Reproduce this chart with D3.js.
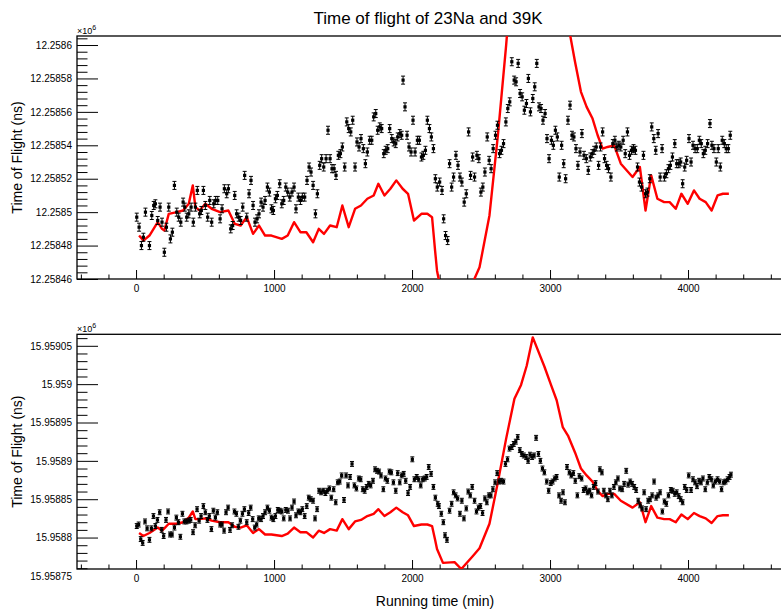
<!DOCTYPE html>
<html><head><meta charset="utf-8">
<script src="https://cdn.jsdelivr.net/npm/d3@7"></script>
<style>
body{margin:0;background:#fff}
svg{display:block}
text{font-family:"Liberation Sans",Arial,Helvetica,sans-serif;fill:#000}
</style>
</head><body>
<svg id="chart" width="781" height="611"></svg>
<script>
// ---- data (time in min, time of flight in ns) ----
const naTof = [[5,12258497],[22,12258491],[39,12258480],[53,12258485],[68,12258500],[97,12258480],[114,12258498],[128,12258504],[140,12258505],[157,12258495],[174,12258503],[188,12258494],[205,12258476],[220,12258491],[237,12258503],[249,12258484],[263,12258488],[278,12258516],[295,12258500],[309,12258497],[324,12258494],[341,12258506],[353,12258503],[367,12258497],[382,12258499],[399,12258503],[415,12258494],[430,12258503],[444,12258513],[461,12258499],[473,12258501],[488,12258513],[502,12258504],[519,12258497],[534,12258507],[548,12258494],[563,12258505],[577,12258507],[592,12258507],[609,12258496],[623,12258502],[640,12258514],[657,12258511],[669,12258514],[686,12258490],[700,12258492],[715,12258510],[729,12258499],[744,12258497],[758,12258495],[773,12258503],[787,12258522],[802,12258497],[819,12258511],[833,12258519],[848,12258504],[862,12258494],[877,12258496],[891,12258499],[906,12258506],[920,12258503],[935,12258507],[952,12258515],[966,12258512],[981,12258502],[995,12258501],[1010,12258508],[1024,12258510],[1041,12258517],[1056,12258505],[1070,12258507],[1085,12258515],[1099,12258512],[1114,12258509],[1130,12258512],[1145,12258515],[1159,12258502],[1176,12258509],[1191,12258507],[1205,12258509],[1222,12258509],[1239,12258519],[1254,12258527],[1268,12258524],[1283,12258516],[1300,12258499],[1314,12258511],[1331,12258528],[1345,12258532],[1360,12258527],[1377,12258532],[1391,12258549],[1406,12258532],[1420,12258526],[1435,12258526],[1449,12258522],[1466,12258534],[1481,12258535],[1495,12258539],[1512,12258527],[1527,12258554],[1541,12258550],[1556,12258548],[1570,12258555],[1587,12258527],[1601,12258542],[1616,12258539],[1630,12258544],[1647,12258538],[1662,12258529],[1676,12258536],[1693,12258543],[1708,12258543],[1722,12258557],[1737,12258559],[1751,12258549],[1766,12258551],[1780,12258550],[1795,12258535],[1809,12258537],[1824,12258538],[1838,12258550],[1853,12258544],[1867,12258542],[1882,12258541],[1896,12258545],[1911,12258547],[1925,12258546],[1935,12258579],[1949,12258563],[1964,12258546],[1978,12258539],[1993,12258536],[2007,12258555],[2022,12258536],[2039,12258543],[2053,12258543],[2068,12258533],[2082,12258534],[2097,12258537],[2111,12258555],[2126,12258550],[2140,12258545],[2155,12258538],[2169,12258520],[2183,12258515],[2200,12258518],[2217,12258513],[2229,12258496],[2243,12258486],[2258,12258483],[2272,12258529],[2287,12258515],[2301,12258521],[2318,12258534],[2333,12258528],[2347,12258521],[2361,12258518],[2378,12258506],[2393,12258511],[2410,12258548],[2424,12258522],[2439,12258533],[2453,12258521],[2470,12258534],[2484,12258532],[2499,12258512],[2513,12258515],[2528,12258524],[2545,12258545],[2559,12258531],[2573,12258526],[2588,12258538],[2605,12258546],[2619,12258552],[2634,12258535],[2648,12258537],[2663,12258541],[2680,12258554],[2694,12258562],[2708,12258566],[2723,12258590],[2740,12258579],[2754,12258578],[2769,12258589],[2783,12258571],[2798,12258569],[2814,12258561],[2829,12258565],[2843,12258580],[2858,12258560],[2875,12258568],[2889,12258575],[2904,12258589],[2920,12258563],[2935,12258562],[2949,12258555],[2964,12258559],[2978,12258544],[2993,12258532],[3010,12258543],[3024,12258540],[3039,12258549],[3053,12258545],[3067,12258521],[3084,12258540],[3099,12258529],[3113,12258520],[3130,12258555],[3145,12258564],[3159,12258546],[3173,12258545],[3188,12258538],[3202,12258528],[3217,12258536],[3231,12258547],[3246,12258534],[3263,12258532],[3277,12258525],[3292,12258533],[3306,12258535],[3320,12258537],[3335,12258539],[3352,12258528],[3366,12258539],[3381,12258548],[3395,12258532],[3410,12258528],[3424,12258526],[3441,12258521],[3455,12258541],[3470,12258543],[3484,12258539],[3499,12258540],[3513,12258539],[3530,12258543],[3545,12258535],[3561,12258548],[3576,12258534],[3590,12258537],[3605,12258538],[3619,12258537],[3634,12258527],[3648,12258518],[3663,12258515],[3677,12258534],[3692,12258511],[3706,12258512],[3723,12258520],[3737,12258551],[3752,12258544],[3766,12258537],[3783,12258547],[3798,12258521],[3812,12258538],[3829,12258521],[3843,12258523],[3858,12258526],[3872,12258528],[3887,12258533],[3904,12258541],[3918,12258529],[3933,12258529],[3947,12258530],[3961,12258517],[3976,12258527],[3990,12258531],[4007,12258544],[4022,12258530],[4036,12258540],[4051,12258538],[4067,12258538],[4082,12258543],[4096,12258541],[4111,12258535],[4125,12258537],[4142,12258541],[4159,12258553],[4173,12258540],[4188,12258538],[4205,12258530],[4219,12258538],[4234,12258527],[4248,12258543],[4263,12258541],[4277,12258538],[4292,12258538],[4306,12258546]];

const kTof = [[5,15958815],[19,15958817],[34,15958798],[48,15958793],[65,15958821],[80,15958812],[97,15958797],[111,15958812],[126,15958828],[140,15958815],[155,15958823],[171,15958833],[186,15958810],[200,15958802],[217,15958823],[232,15958834],[246,15958804],[261,15958804],[278,15958813],[292,15958826],[307,15958820],[321,15958801],[336,15958831],[350,15958821],[365,15958821],[382,15958822],[396,15958823],[413,15958807],[428,15958816],[442,15958837],[457,15958822],[471,15958828],[488,15958841],[502,15958833],[517,15958823],[531,15958828],[546,15958811],[560,15958835],[575,15958826],[589,15958833],[609,15958817],[623,15958817],[638,15958809],[652,15958833],[667,15958839],[681,15958810],[696,15958816],[713,15958834],[727,15958831],[742,15958814],[756,15958822],[771,15958831],[785,15958837],[802,15958820],[816,15958832],[831,15958839],[845,15958824],[860,15958813],[874,15958817],[889,15958825],[906,15958824],[920,15958828],[935,15958833],[952,15958839],[966,15958835],[981,15958826],[995,15958824],[1010,15958828],[1027,15958836],[1041,15958835],[1056,15958834],[1070,15958825],[1085,15958836],[1101,15958835],[1116,15958825],[1130,15958839],[1145,15958847],[1159,15958829],[1176,15958834],[1191,15958833],[1205,15958837],[1222,15958828],[1237,15958841],[1251,15958852],[1266,15958850],[1283,15958848],[1297,15958825],[1312,15958837],[1326,15958861],[1341,15958859],[1357,15958861],[1372,15958858],[1386,15958861],[1401,15958864],[1415,15958852],[1432,15958863],[1447,15958846],[1461,15958872],[1476,15958873],[1490,15958881],[1507,15958849],[1522,15958881],[1536,15958868],[1551,15958879],[1565,15958896],[1582,15958868],[1597,15958864],[1614,15958877],[1628,15958876],[1643,15958863],[1657,15958861],[1671,15958866],[1686,15958870],[1700,15958868],[1717,15958874],[1732,15958889],[1746,15958887],[1761,15958886],[1775,15958881],[1792,15958863],[1807,15958877],[1821,15958874],[1836,15958886],[1850,15958885],[1865,15958872],[1882,15958861],[1896,15958884],[1911,15958872],[1925,15958881],[1940,15958883],[1954,15958874],[1971,15958858],[1986,15958866],[2002,15958902],[2017,15958876],[2034,15958879],[2048,15958876],[2063,15958868],[2077,15958876],[2092,15958877],[2106,15958879],[2121,15958892],[2138,15958883],[2155,15958866],[2169,15958852],[2186,15958844],[2195,15958841],[2212,15958831],[2227,15958820],[2239,15958803],[2253,15958797],[2272,15958835],[2287,15958844],[2301,15958859],[2316,15958855],[2330,15958851],[2347,15958831],[2361,15958848],[2376,15958825],[2393,15958838],[2407,15958860],[2422,15958855],[2436,15958866],[2453,15958848],[2467,15958834],[2482,15958839],[2496,15958841],[2511,15958832],[2528,15958851],[2542,15958846],[2557,15958855],[2571,15958855],[2586,15958863],[2602,15958872],[2617,15958884],[2631,15958873],[2646,15958874],[2663,15958873],[2677,15958896],[2692,15958902],[2706,15958916],[2723,15958918],[2737,15958922],[2752,15958925],[2766,15958931],[2781,15958914],[2795,15958909],[2810,15958907],[2827,15958905],[2841,15958900],[2855,15958908],[2870,15958905],[2884,15958907],[2899,15958930],[2916,15958909],[2930,15958900],[2945,15958890],[2959,15958885],[2976,15958873],[2990,15958861],[3005,15958871],[3019,15958873],[3034,15958877],[3048,15958879],[3065,15958855],[3080,15958848],[3094,15958859],[3108,15958846],[3123,15958892],[3140,15958885],[3154,15958881],[3169,15958884],[3183,15958874],[3198,15958855],[3212,15958880],[3229,15958877],[3243,15958862],[3258,15958864],[3272,15958859],[3287,15958861],[3301,15958855],[3316,15958866],[3330,15958871],[3347,15958860],[3361,15958889],[3376,15958885],[3390,15958861],[3405,15958855],[3419,15958850],[3434,15958861],[3448,15958855],[3463,15958866],[3477,15958872],[3492,15958877],[3506,15958864],[3523,15958863],[3537,15958870],[3552,15958887],[3566,15958869],[3581,15958873],[3595,15958870],[3610,15958866],[3624,15958862],[3639,15958848],[3653,15958842],[3667,15958838],[3682,15958859],[3696,15958837],[3711,15958848],[3725,15958850],[3740,15958855],[3754,15958873],[3769,15958852],[3783,15958855],[3798,15958859],[3814,15958834],[3829,15958847],[3843,15958844],[3858,15958855],[3875,15958862],[3889,15958861],[3904,15958857],[3918,15958859],[3933,15958854],[3947,15958850],[3961,15958846],[3976,15958866],[3990,15958862],[4005,15958881],[4022,15958862],[4036,15958876],[4051,15958872],[4065,15958867],[4080,15958874],[4094,15958872],[4108,15958877],[4125,15958863],[4140,15958872],[4154,15958879],[4169,15958876],[4183,15958868],[4198,15958873],[4214,15958876],[4229,15958873],[4243,15958863],[4258,15958872],[4272,15958873],[4287,15958876],[4301,15958879],[4311,15958882]];

const refTime = [22,53,97,157,188,205,237,295,341,382,411,430,461,502,548,609,669,715,758,802,848,891,935,981,1056,1099,1145,1191,1234,1283,1324,1362,1406,1454,1495,1541,1587,1630,1676,1722,1756,1800,1843,1886,1932,1971,2014,2068,2111,2145,2167,2181,2224,2308,2357,2441,2489,2561,2622,2682,2742,2790,2831,2875,2959,3007,3048,3092,3130,3181,3224,3265,3308,3345,3381,3417,3465,3513,3598,3651,3692,3733,3778,3827,3867,3911,3952,3998,4043,4084,4128,4171,4214,4253,4296];

const naRef = [12258486,12258483,12258486,12258494,12258490,12258489,12258499,12258500,12258501,12258505,12258516,12258503,12258501,12258505,12258502,12258500,12258501,12258493,12258492,12258497,12258487,12258492,12258486,12258486,12258484,12258486,12258494,12258488,12258488,12258482,12258490,12258487,12258492,12258491,12258504,12258491,12258502,12258504,12258508,12258510,12258517,12258510,12258514,12258519,12258514,12258511,12258495,12258499,12258499,12258497,12258477,12258465,12258447,12258448,12258439,12258458,12258467,12258498,12258546,12258600,12258661,12258687,12258704,12258741,12258703,12258679,12258659,12258624,12258613,12258590,12258572,12258563,12258556,12258546,12258538,12258539,12258540,12258529,12258521,12258527,12258501,12258522,12258508,12258506,12258506,12258502,12258511,12258505,12258513,12258508,12258506,12258501,12258510,12258511,12258511];

const kRef = [15958806,15958802,15958806,15958813,15958809,15958812,15958818,15958818,15958820,15958826,15958834,15958824,15958824,15958825,15958822,15958820,15958820,15958814,15958813,15958816,15958806,15958811,15958804,15958804,15958802,15958805,15958813,15958807,15958807,15958800,15958809,15958806,15958811,15958809,15958824,15958811,15958821,15958823,15958828,15958831,15958837,15958828,15958833,15958839,15958833,15958829,15958815,15958817,15958817,15958815,15958797,15958785,15958767,15958768,15958759,15958776,15958786,15958818,15958872,15958929,15958981,15958999,15959024,15959061,15959023,15958999,15958979,15958944,15958933,15958911,15958890,15958881,15958873,15958861,15958854,15958857,15958857,15958848,15958839,15958846,15958820,15958841,15958826,15958824,15958824,15958820,15958830,15958824,15958832,15958828,15958825,15958819,15958828,15958829,15958829];

const naErr = 2.4;   // ns
const kErr = 3.2;    // ns
const xMajorTicks = [0,1000,2000,3000,4000];
const naMajorTicks = [12258460,12258480,12258500,12258520,12258540,12258560,12258580,12258600];
const kMajorTicks = [15958750,15958800,15958850,15958900,15958950,15959000,15959050];
const titleText = "Time of flight of 23Na and 39K";
const yTitleText = "Time of Flight (ns)";
const xTitleText = "Running time (min)";

// ---- layout ----
const svg = d3.select("#chart");
const W = 781, H = 611;
const left = 77, right = 786;
const x = d3.scaleLinear().domain([-428, 4710]).range([left, right]);

const panels = [
  {id:"na", top:36, bottom:279, dom:[12258460,12258605.4], minorStep:4, majors:naMajorTicks, pts:naTof, ref:naRef, err:naErr},
  {id:"k", top:334.3, bottom:569, dom:[15958759,15959065], minorStep:10, majors:kMajorTicks, pts:kTof, ref:kRef, err:kErr}
];

const fmt = v => {
  let s = (v/1e6).toFixed(5);
  s = s.replace(/0+$/,"").replace(/\.$/,"");
  return s;
};

panels.forEach(p => {
  const y = d3.scaleLinear().domain(p.dom).range([p.bottom, p.top]);
  const g = svg.append("g");

  const clipId = "clip-" + p.id;
  svg.append("defs").append("clipPath").attr("id", clipId)
    .append("rect").attr("x", left).attr("y", p.top).attr("width", right-left).attr("height", p.bottom-p.top);

  // minor y ticks
  const minorY = d3.range(Math.ceil(p.dom[0]/p.minorStep)*p.minorStep, p.dom[1], p.minorStep)
    .filter(v => !p.majors.includes(v));
  const yMinor = d3.axisLeft(y).tickValues(minorY).tickSizeInner(-10.5).tickSizeOuter(0).tickFormat("");
  const gYm = g.append("g").attr("transform", `translate(${left},0)`).call(yMinor);
  gYm.select(".domain").remove();

  const yMajor = d3.axisLeft(y).tickValues(p.majors).tickSizeInner(-21).tickSizeOuter(0).tickPadding(5).tickFormat(fmt);
  const gY = g.append("g").attr("transform", `translate(${left},0)`).call(yMajor);
  gY.select(".domain").remove();
  gY.selectAll(".tick").each(function(d){
    if (d < p.dom[0] - 0.01 || d > p.dom[1]) d3.select(this).select("line").remove();
  });
  gY.selectAll("text").attr("font-size", 10).style("font-family", '"Liberation Sans",Arial,sans-serif');
  gY.selectAll("line").attr("stroke-width", 1);
  gYm.selectAll("line").attr("stroke-width", 1);

  // x ticks
  const minorX = d3.range(-400, 4701, 200).filter(v => !xMajorTicks.includes(v));
  const xMinor = d3.axisBottom(x).tickValues(minorX).tickSizeInner(-4.5).tickSizeOuter(0).tickFormat("");
  const gXm = g.append("g").attr("transform", `translate(0,${p.bottom})`).call(xMinor);
  gXm.select(".domain").remove();
  const xMajor = d3.axisBottom(x).tickValues(xMajorTicks).tickSizeInner(-9).tickSizeOuter(0).tickPadding(6).tickFormat(d3.format("d"));
  const gX = g.append("g").attr("transform", `translate(0,${p.bottom})`).call(xMajor);
  gX.select(".domain").remove();
  gX.selectAll("text").attr("font-size", 10).style("font-family", '"Liberation Sans",Arial,sans-serif');
  gX.selectAll("line").attr("stroke-width", 1);
  gXm.selectAll("line").attr("stroke-width", 1);

  // frame
  g.append("rect").attr("x", left).attr("y", p.top).attr("width", right-left).attr("height", p.bottom-p.top)
    .attr("fill", "none").attr("stroke", "#000").attr("stroke-width", 1.3);

  // x10^6 label
  const lab = g.append("text").attr("x", left).attr("y", p.top - 2).attr("font-size", 9);
  lab.append("tspan").text("\u00d710");
  lab.append("tspan").attr("dy", -4).attr("font-size", 7).text("6");

  // y title
  g.append("text").attr("transform", `translate(22,${(p.top+p.bottom)/2}) rotate(-90)`)
    .attr("text-anchor", "middle").attr("font-size", 14).text(yTitleText);

  const plot = g.append("g").attr("clip-path", `url(#${clipId})`);

  // reference (red) line
  const line = d3.line().x(d => x(d[0])).y(d => y(d[1]));
  plot.append("path").datum(refTime.map((t,i) => [t, p.ref[i]]))
    .attr("d", line).attr("fill", "none").attr("stroke", "#ff0000").attr("stroke-width", 2.4)
    .attr("stroke-linejoin", "round");

  // error bars + markers
  const pts = plot.append("g");
  const e = pts.selectAll("g.pt").data(p.pts).join("g").attr("class","pt");
  e.append("line").attr("x1", d => x(d[0])).attr("x2", d => x(d[0]))
    .attr("y1", d => y(d[1]-p.err)).attr("y2", d => y(d[1]+p.err)).attr("stroke", "#000").attr("stroke-width", 1);
  e.append("line").attr("x1", d => x(d[0])-2).attr("x2", d => x(d[0])+2)
    .attr("y1", d => y(d[1]+p.err)).attr("y2", d => y(d[1]+p.err)).attr("stroke", "#000").attr("stroke-width", 1);
  e.append("line").attr("x1", d => x(d[0])-2).attr("x2", d => x(d[0])+2)
    .attr("y1", d => y(d[1]-p.err)).attr("y2", d => y(d[1]-p.err)).attr("stroke", "#000").attr("stroke-width", 1);
  e.append("rect").attr("x", d => x(d[0])-1.6).attr("y", d => y(d[1])-1.6)
    .attr("width", 3.2).attr("height", 3.2).attr("fill", "#000");
});

// title and x title
svg.append("text").attr("x", 428).attr("y", 24).attr("text-anchor", "middle").attr("font-size", 17).text(titleText);
svg.append("text").attr("x", 435).attr("y", 606).attr("text-anchor", "middle").attr("font-size", 14).text(xTitleText);
</script>
</body></html>
